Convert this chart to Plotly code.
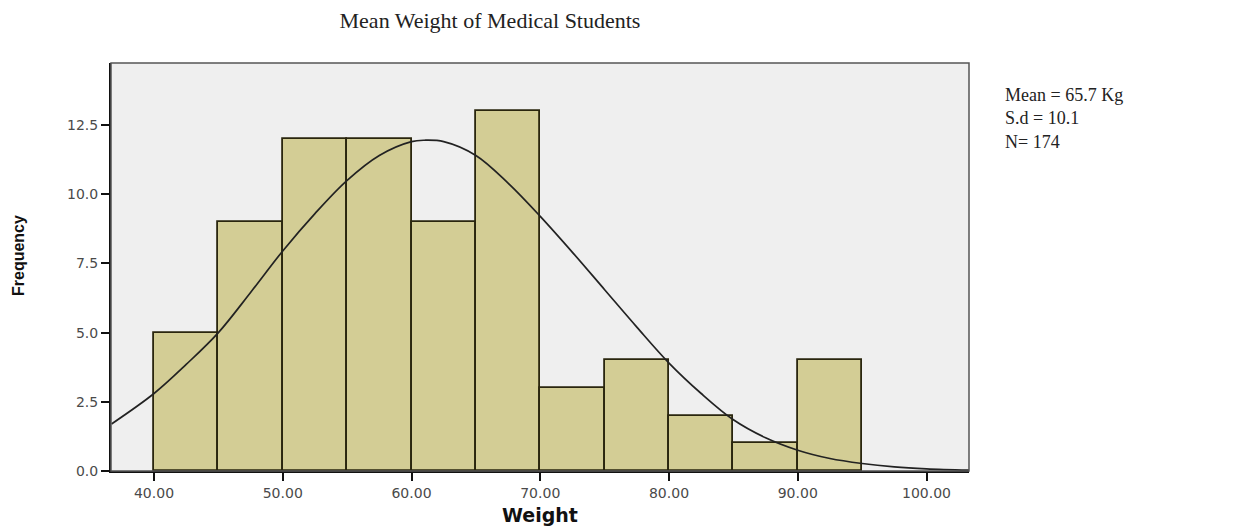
import plotly.graph_objects as go

# Histogram bins (lower edges) and frequencies
bin_starts = [40, 45, 50, 55, 60, 65, 70, 75, 80, 85, 90]
frequencies = [5, 9, 12, 12, 9, 13, 3, 4, 2, 1, 4]
bin_width = 5

# Normal curve points
curve_x = [36.7, 40, 42.5, 45, 47.5, 50, 52.5, 55, 57.5, 60, 61, 62.5, 65, 67.5, 70,
           72.5, 75, 77.5, 80, 82.5, 85, 87.5, 90, 92.5, 95, 97.5, 100, 103.3]
curve_y = [1.7, 2.8, 3.85, 5.0, 6.45, 7.95, 9.3, 10.5, 11.4, 11.9, 11.95, 11.9, 11.4, 10.4, 9.2,
           7.9, 6.55, 5.2, 3.9, 2.8, 1.85, 1.2, 0.75, 0.45, 0.27, 0.15, 0.08, 0.03]

x_ticks = [40, 50, 60, 70, 80, 90, 100]
x_tick_labels = ["40.00", "50.00", "60.00", "70.00", "80.00", "90.00", "100.00"]
y_ticks = [0, 2.5, 5, 7.5, 10, 12.5]
y_tick_labels = ["0.0", "2.5", "5.0", "7.5", "10.0", "12.5"]

title_text = "Mean Weight of Medical Students"
x_title = "Weight"
y_title = "Frequency"
stats_lines = ["Mean = 65.7 Kg", "S.d = 10.1", "N= 174"]

bar_centers = [b + bin_width / 2 for b in bin_starts]

# page body has an 8px margin: compensate so the plot lands where the reference has it
OFF = 8
L, T, R_EDGE, B_EDGE = 111, 63, 969, 471
W, H = 1236, 526
PW, PH = R_EDGE - L, B_EDGE - T

fig = go.Figure()
fig.add_trace(go.Bar(
    x=bar_centers, y=frequencies, width=bin_width,
    marker=dict(color="#d3cd95", line=dict(color="#2a260e", width=1.8)),
    showlegend=False, hoverinfo="x+y",
))
fig.add_trace(go.Scatter(
    x=curve_x, y=curve_y, mode="lines",
    line=dict(color="#222222", width=1.7, shape="spline"),
    showlegend=False,
))

tickfont = dict(family="DejaVu Sans, Verdana, sans-serif", size=14, color="#4a4a4a")

fig.update_layout(
    width=W, height=H,
    margin=dict(l=L - OFF, r=W - (R_EDGE - OFF), t=T - OFF, b=H - (B_EDGE - OFF)),
    paper_bgcolor="white", plot_bgcolor="#efefef",
    bargap=0,
    title=dict(text=title_text, x=(490 - OFF) / W, xanchor="center",
               y=1 - (20 - OFF) / H, yanchor="middle",
               font=dict(family="Liberation Serif, Times New Roman, serif", size=22, color="#222")),
    xaxis=dict(range=[36.66, 103.3], tickvals=x_ticks, ticktext=x_tick_labels,
               showgrid=False, zeroline=False, showline=True, linecolor="#111", linewidth=2,
               ticks="outside", ticklen=8, tickwidth=1.5, tickcolor="#111",
               tickfont=tickfont, automargin=False),
    yaxis=dict(range=[0, 14.74], tickvals=y_ticks, ticktext=y_tick_labels,
               showgrid=False, zeroline=False, showline=True, linecolor="#111", linewidth=2,
               ticks="outside", ticklen=8, tickwidth=1.5, tickcolor="#111",
               tickfont=tickfont, automargin=False),
    shapes=[dict(type="rect", xref="paper", yref="paper", x0=0, x1=1, y0=0, y1=1,
                 line=dict(color="#555", width=1.5), layer="above")],
)

# axis titles
fig.add_annotation(
    xref="paper", yref="paper", x=0.5, y=-(515 - B_EDGE) / PH,
    text="<b>" + x_title + "</b>", showarrow=False, xanchor="center", yanchor="middle",
    font=dict(family="DejaVu Sans, Verdana, sans-serif", size=19, color="#111"),
)
fig.add_annotation(
    xref="paper", yref="paper", x=-(L - 18) / PW, y=(B_EDGE - 256) / PH,
    text="<b>" + y_title + "</b>", showarrow=False, xanchor="center", yanchor="middle",
    textangle=-90,
    font=dict(family="Liberation Sans, Arial, sans-serif", size=16, color="#111"),
)

# summary statistics block
fig.add_annotation(
    xref="paper", yref="paper", x=(1003 - L) / PW, y=(B_EDGE - 83) / PH,
    text="<br>".join(stats_lines), showarrow=False, xanchor="left", yanchor="top",
    align="left",
    font=dict(family="Liberation Serif, Times New Roman, serif", size=18, color="#222"),
)

fig.write_html("out.html")
